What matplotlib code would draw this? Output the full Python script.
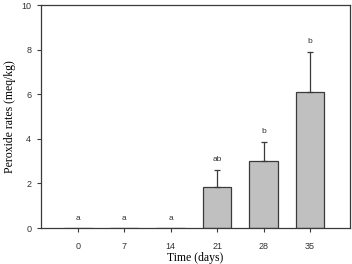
import matplotlib.pyplot as plt

days = ["0", "7", "14", "21", "28", "35"]
means = [0.0, 0.0, 0.0, 1.84, 3.0, 6.11]
sds = [0.0, 0.0, 0.0, 0.77, 0.87, 1.79]
letters = ["a", "a", "a", "ab", "b", "b"]

fig = plt.figure(figsize=(3.52, 2.64), dpi=100)
ax = fig.add_axes([0.1165, 0.136, 0.878, 0.845])

x = list(range(len(days)))
ax.bar(x, means, width=0.61, color="#c0c0c0", edgecolor="#3a3a3a", linewidth=0.9, zorder=2)
for i in x:
    if sds[i] > 0:
        ax.errorbar(i, means[i], yerr=[[0], [sds[i]]], fmt="none", ecolor="#3a3a3a",
                    elinewidth=0.9, capsize=2.5, capthick=0.9, zorder=3)
    ax.text(i, means[i] + sds[i] + 0.45, letters[i], ha="center", va="center",
            fontsize=6, family="Liberation Sans", color="#333333")

ax.set_xlim(-0.79, 5.86)
ax.set_ylim(0, 10)
ax.set_xticks(x)
ax.set_xticklabels(days)
ax.set_yticks([0, 2, 4, 6, 8, 10])
for lab in ax.get_xticklabels() + ax.get_yticklabels():
    lab.set_family("Liberation Sans")
    lab.set_fontsize(6.5)
    lab.set_color("#333333")
ax.tick_params(direction="out", length=3, width=0.8, color="#3a3a3a", pad=4)
ax.tick_params(axis="x", pad=7)
for s in ax.spines.values():
    s.set_linewidth(0.9)
    s.set_color("#3a3a3a")

ax.set_ylabel("Peroxide rates (meq/kg)", family="Liberation Serif", fontsize=8.5, labelpad=4)
ax.set_xlabel("Time (days)", family="Liberation Serif", fontsize=8.5, labelpad=1)

fig.savefig("out.png", dpi=100)
